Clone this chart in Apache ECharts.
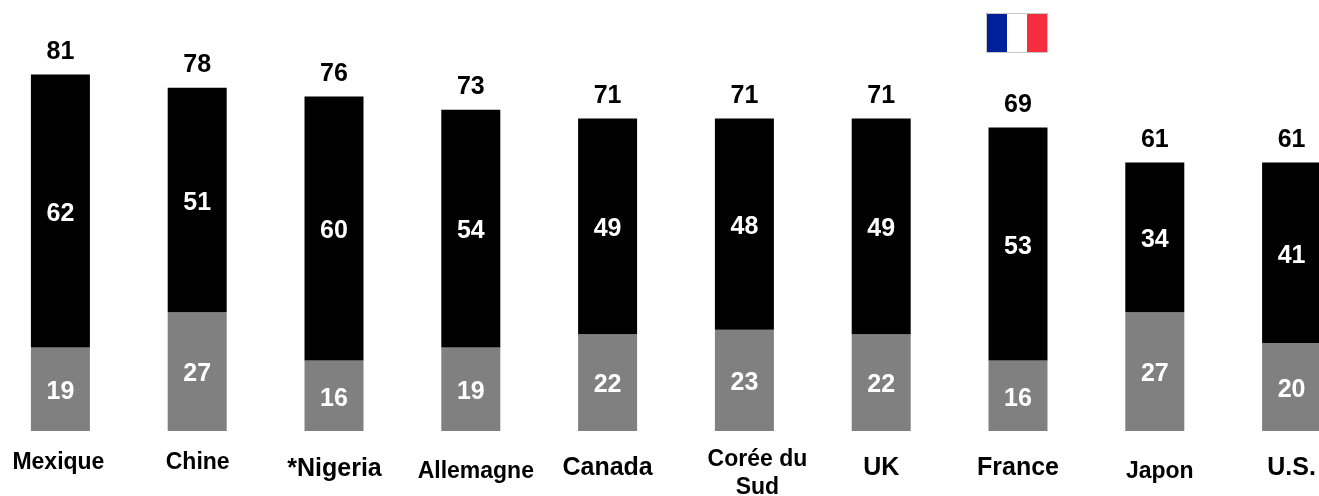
<!DOCTYPE html>
<html><head><meta charset="utf-8">
<style>html,body{margin:0;padding:0;background:#fff}#c{width:1319px;height:496px}</style>
<script src="https://cdn.jsdelivr.net/npm/echarts@6/dist/echarts.min.js"></script>
</head><body><div id="c"></div>
<script>
const categories = ['Mexique','Chine','*Nigeria','Allemagne','Canada','Corée du\nSud','UK','France','Japon','U.S.'];
const blackValues = [62,51,60,54,49,48,49,53,34,41];
const greyValues = [19,27,16,19,22,23,22,16,27,20];
const totals = [81,78,76,73,71,71,71,69,61,61];
const labelStyles = [
  {size:23,top:36,shift:-2},{size:23,top:36,shift:0.5},{size:25,top:48,shift:0.5},{size:23,top:54,shift:5},{size:25,top:47,shift:0},
  {size:23,top:29,shift:13,top2:85},{size:25,top:47,shift:0},{size:25,top:47,shift:0},{size:23,top:54,shift:5},{size:25,top:47,shift:0}
];
const font = '"Liberation Sans", Arial, sans-serif';
const rich = {};
labelStyles.forEach((s,i)=>{
  const l = s.shift>0?2*s.shift:0, r = s.shift<0?-2*s.shift:0;
  rich['k'+i] = {fontFamily:font,fontWeight:'bold',fontSize:s.size,color:'#000',lineHeight:28,align:'center',padding:[s.top,r,0,l]};
  rich['n'+i] = {fontFamily:font,fontWeight:'bold',fontSize:s.size,color:'#000',lineHeight:28,align:'center',padding:[s.top2||0,r,0,l]};
});
const axisBase = {type:'category',axisLine:{show:false},axisTick:{show:false}};
const chart = echarts.init(document.getElementById('c'),null,{renderer:'canvas'});
const inLabel = {show:true,position:'inside',offset:[0,3],color:'#fff',fontFamily:font,fontWeight:'bold',fontSize:25};
chart.setOption({
  animation:false,
  backgroundColor:'#fff',
  grid:{left:-8,width:1368,top:-9,height:440,containLabel:false,outerBoundsMode:'none'},
  xAxis:[
    {...axisBase,position:'bottom',data:categories.map(c=>c.split('\n')[0]),
      axisLabel:{interval:0,margin:0,hideOverlap:false,formatter:(v,i)=>`{k${i}|${v}}`,rich}},
    {...axisBase,position:'bottom',data:categories.map(c=>c.split('\n')[1]||' '),
      axisLabel:{interval:0,margin:0,hideOverlap:false,formatter:(v,i)=>v.trim()?`{n${i}|${v}}`:'',rich}}
  ],
  yAxis:{type:'value',min:0,max:100,show:false,splitLine:{show:false}},
  series:[
    {type:'bar',stack:'a',data:greyValues,barWidth:59,itemStyle:{color:'#808080'},label:inLabel},
    {type:'bar',stack:'a',data:blackValues,barWidth:59,itemStyle:{color:'#000'},label:inLabel},
    {type:'line',data:totals,symbol:'circle',symbolSize:1,showSymbol:true,showAllSymbol:true,itemStyle:{color:'transparent'},lineStyle:{opacity:0},
      label:{show:true,position:'top',distance:9.5,color:'#000',fontFamily:font,fontWeight:'bold',fontSize:25}}
  ],
  graphic:[
    {type:'rect',shape:{x:986,y:13,width:21,height:39},style:{fill:'#00209a'}},
    {type:'rect',shape:{x:1007,y:13,width:20,height:39},style:{fill:'#fff'}},
    {type:'rect',shape:{x:1027,y:13,width:21,height:39},style:{fill:'#f42e3e'}},
    {type:'rect',shape:{x:986.5,y:13.5,width:61,height:39},style:{fill:'none',stroke:'#c8c8c8',lineWidth:1}}
  ]
});
</script></body></html>
